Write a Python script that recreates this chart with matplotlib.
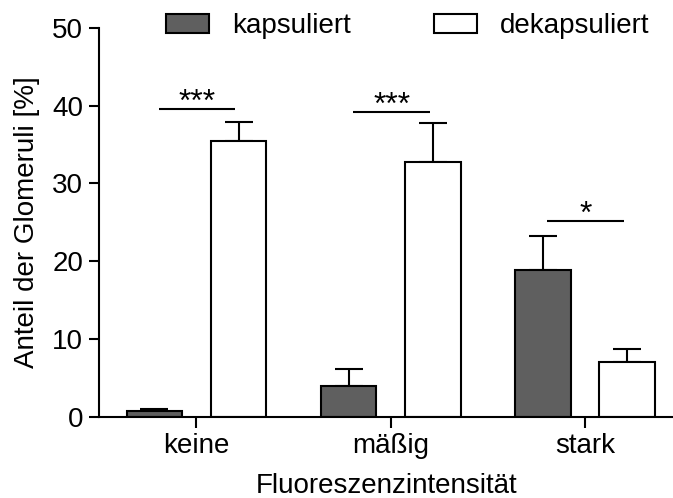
import matplotlib
matplotlib.use("Agg")
import matplotlib.pyplot as plt
import numpy as np

plt.rcParams['font.family'] = ['Liberation Sans', 'DejaVu Sans']

categories = ["keine", "mäßig", "stark"]
series_names = ["kapsuliert", "dekapsuliert"]
kapsuliert = [0.7, 4.0, 18.87]
kapsuliert_err = [0.33, 2.13, 4.4]
dekapsuliert = [35.5, 32.76, 7.07]
dekapsuliert_err = [2.37, 5.02, 1.64]
sig_labels = ["***", "***", "*"]
sig_heights = [39.54, 39.2, 25.2]

FS = 20

fig = plt.figure(figsize=(6.73, 4.98), dpi=100)
ax = fig.add_axes([99.3 / 673, 1 - 416.7 / 498, 1 - 99.3 / 673, (416.7 - 28) / 498])

x = np.arange(len(categories))
off = 0.217
w = 0.286
lw = 1.5
ax.bar(x - off, kapsuliert, w, color="#5f5f5f", edgecolor="black", linewidth=lw,
       label=series_names[0], zorder=2)
ax.bar(x + off, dekapsuliert, w, color="white", edgecolor="black", linewidth=lw,
       label=series_names[1], zorder=2)
ax.errorbar(x - off, kapsuliert, yerr=[np.zeros(3), kapsuliert_err], fmt="none",
            ecolor="black", elinewidth=lw, capsize=10, capthick=lw, zorder=1)
ax.errorbar(x + off, dekapsuliert, yerr=[np.zeros(3), dekapsuliert_err], fmt="none",
            ecolor="black", elinewidth=lw, capsize=10, capthick=lw, zorder=1)

for xi, lab, h in zip(x, sig_labels, sig_heights):
    ax.plot([xi - 0.195, xi + 0.2], [h, h], color="black", lw=lw, solid_capstyle="butt")
    ax.text(xi + 0.005, h - 0.25, lab, ha="center", va="baseline", fontsize=23)

ax.set_xlim(-0.5, (673 - 196.7) / 194.2)
ax.set_ylim(0, 50)
ax.set_yticks([0, 10, 20, 30, 40, 50])
ax.set_xticks(x)
ax.set_xticklabels(categories)
ax.spines["top"].set_visible(False)
ax.spines["right"].set_visible(False)
for s in ["left", "bottom"]:
    ax.spines[s].set_linewidth(lw)
ax.tick_params(axis="y", direction="out", length=7.5, width=lw, labelsize=FS, pad=4)
ax.tick_params(axis="x", direction="out", length=8, width=lw, labelsize=FS, pad=3.5)
ax.set_xlabel("Fluoreszenzintensität", fontsize=FS, labelpad=10.5)
ax.set_ylabel("Anteil der Glomeruli [%]", fontsize=FS, labelpad=9)

fig.legend(loc="upper left", bbox_to_anchor=(166 / 673, 1 - 13 / 498), ncol=2,
           frameon=False, fontsize=FS, handlelength=1.55, handleheight=0.65,
           handletextpad=0.82, columnspacing=3.0, borderpad=0, borderaxespad=0)

fig.savefig("out.png", dpi=100)
